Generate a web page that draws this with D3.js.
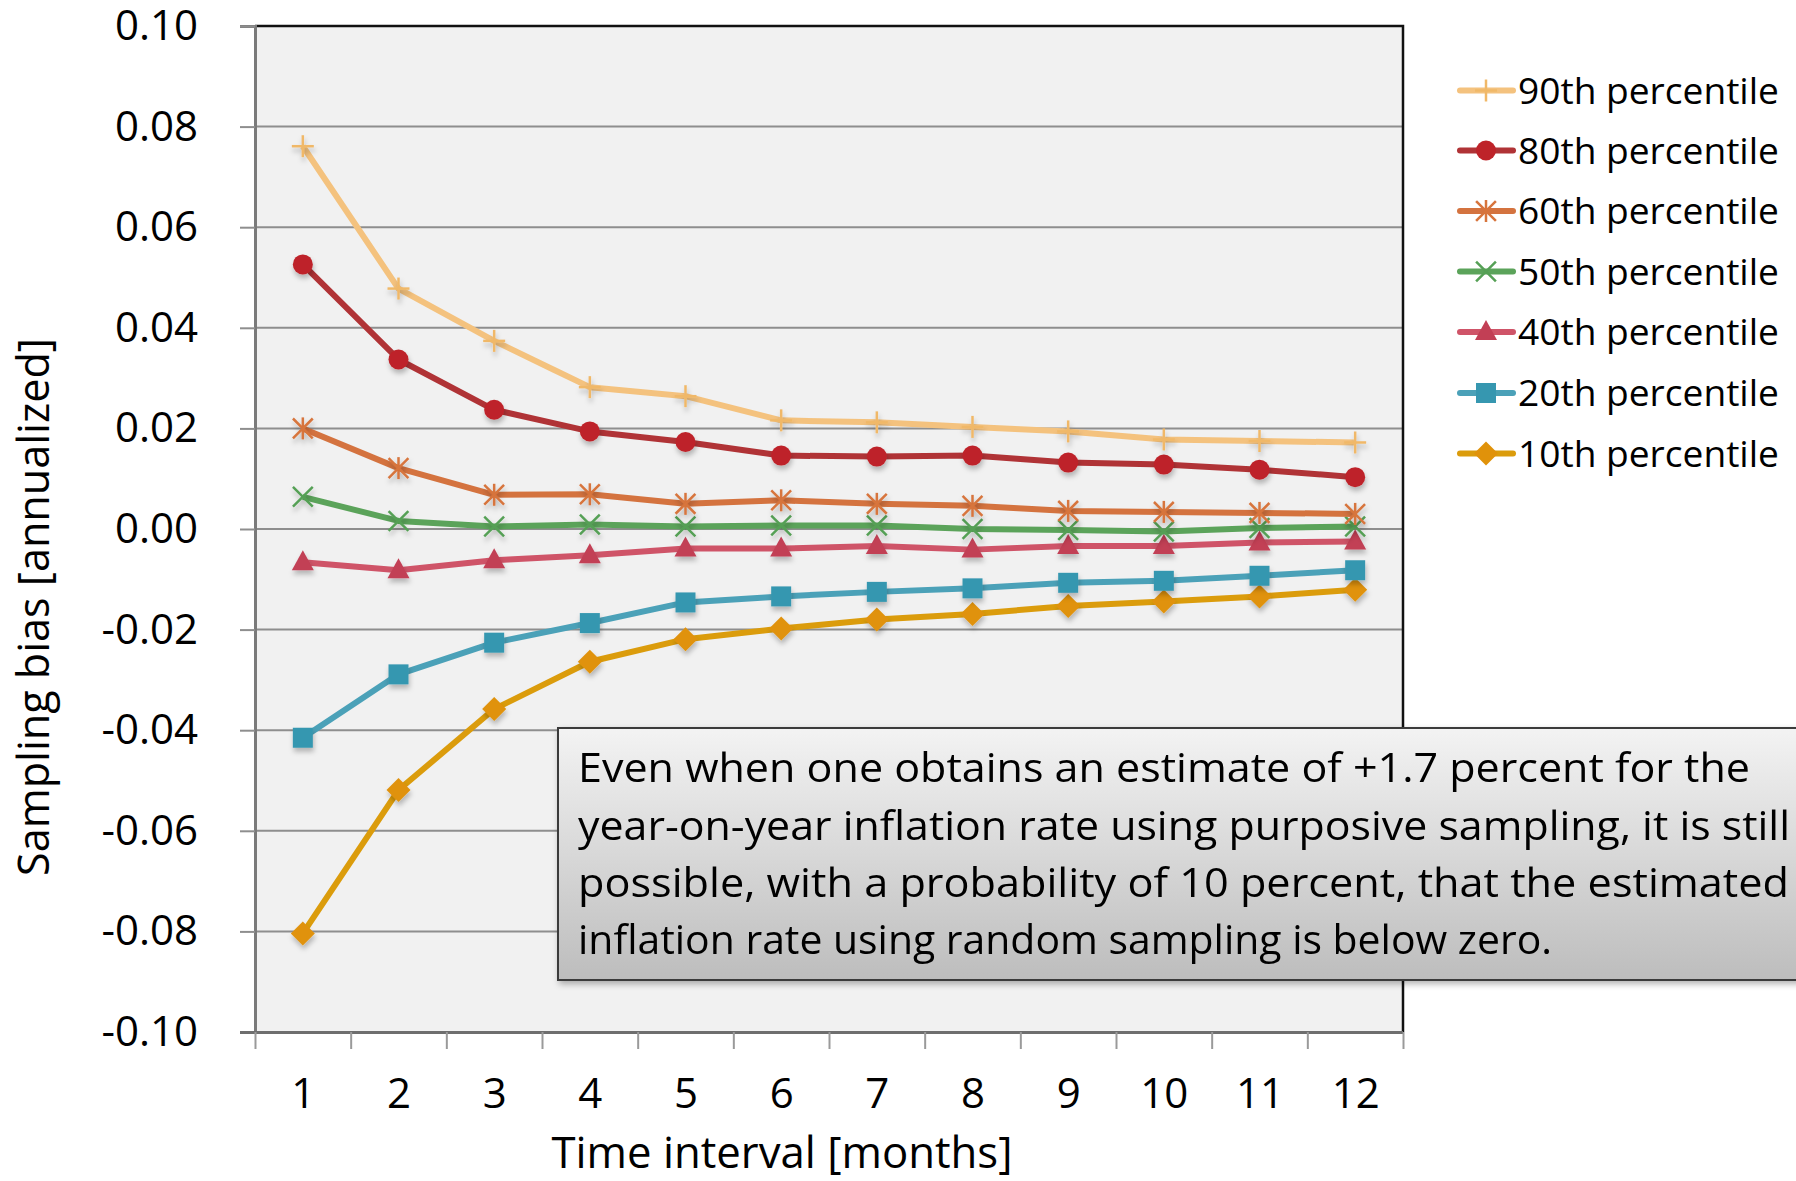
<!DOCTYPE html>
<html>
<head>
<meta charset="utf-8">
<script src="https://cdn.jsdelivr.net/npm/d3@7"></script>
<style>
  html, body { margin: 0; padding: 0; background: #ffffff; }
  svg { display: block; }
  text { font-family: "Open Sans", "Noto Sans", sans-serif; fill: #000; }
</style>
</head>
<body>
<svg id="chart" width="1796" height="1181"></svg>
<script>
// Time intervals (months)
const months = [1, 2, 3, 4, 5, 6, 7, 8, 9, 10, 11, 12];

// Sampling bias percentiles (annualized)
const p90 = [0.0761, 0.0478, 0.0374, 0.0282, 0.0264, 0.0216, 0.0212, 0.0203, 0.0194, 0.0178, 0.0175, 0.0172];
const p80 = [0.0526, 0.0337, 0.0237, 0.0194, 0.0173, 0.0146, 0.0144, 0.0146, 0.0132, 0.0128, 0.0118, 0.0103];
const p60 = [0.0200, 0.0121, 0.0068, 0.0069, 0.0050, 0.0057, 0.0050, 0.0046, 0.0036, 0.0034, 0.0032, 0.0030];
const p50 = [0.0064, 0.0016, 0.0005, 0.0009, 0.0005, 0.0007, 0.0007, 0.0000, -0.0002, -0.0005, 0.0002, 0.0005];
const p40 = [-0.0066, -0.0082, -0.0062, -0.0052, -0.0039, -0.0039, -0.0034, -0.0041, -0.0034, -0.0034, -0.0027, -0.0025];
const p20 = [-0.0415, -0.0289, -0.0226, -0.0187, -0.0146, -0.0134, -0.0125, -0.0118, -0.0107, -0.0103, -0.0093, -0.0082];
const p10 = [-0.0804, -0.0519, -0.0358, -0.0264, -0.0219, -0.0198, -0.0180, -0.0169, -0.0153, -0.0144, -0.0134, -0.0121];

const seriesNames = ["90th percentile", "80th percentile", "60th percentile", "50th percentile",
                     "40th percentile", "20th percentile", "10th percentile"];
const seriesValues = [p90, p80, p60, p50, p40, p20, p10];

const yTicks = [0.10, 0.08, 0.06, 0.04, 0.02, 0.00, -0.02, -0.04, -0.06, -0.08, -0.10];

const xTitle = "Time interval [months]";
const yTitle = "Sampling bias [annualized]";
const noteLines = [
  "Even when one obtains an estimate of +1.7 percent for the",
  "year-on-year inflation rate using purposive sampling, it is still",
  "possible, with a probability of 10 percent, that the estimated",
  "inflation rate using random sampling is below zero."
];

// Visual styling per series
const styles = [
  { line: "#F4C27E", mark: "#F0B868", shape: "plus" },
  { line: "#B03336", mark: "#BE2329", shape: "circle" },
  { line: "#D4733F", mark: "#D7743C", shape: "star" },
  { line: "#5BA35A", mark: "#55A055", shape: "x" },
  { line: "#CF5468", mark: "#C23F55", shape: "triangle" },
  { line: "#4BA1B8", mark: "#3697B0", shape: "square" },
  { line: "#DB9C0C", mark: "#E0920A", shape: "diamond" }
];

const svg = d3.select("#chart");
const plot = { left: 255, right: 1403, top: 26, bottom: 1032 };

const x = d3.scalePoint().domain(months).range([plot.left, plot.right]).padding(0.5);
const xEdge = d3.scaleLinear().domain([0.5, 12.5]).range([plot.left, plot.right]);
const y = d3.scaleLinear().domain([-0.10, 0.10]).range([plot.bottom, plot.top]);

// Defs: marker shadow and note box gradient
const defs = svg.append("defs");
const sh = defs.append("filter").attr("id", "shadow")
  .attr("x", "-50%").attr("y", "-50%").attr("width", "200%").attr("height", "200%");
sh.append("feDropShadow").attr("dx", 1).attr("dy", 4).attr("stdDeviation", 2.5)
  .attr("flood-color", "#000").attr("flood-opacity", 0.25);
const boxShadow = defs.append("filter").attr("id", "boxshadow")
  .attr("x", "-10%").attr("y", "-20%").attr("width", "120%").attr("height", "140%");
boxShadow.append("feDropShadow").attr("dx", 2).attr("dy", 3).attr("stdDeviation", 3)
  .attr("flood-color", "#000").attr("flood-opacity", 0.3);
const grad = defs.append("linearGradient").attr("id", "boxgrad")
  .attr("x1", 0).attr("y1", 0).attr("x2", 0).attr("y2", 1);
grad.append("stop").attr("offset", "0%").attr("stop-color", "#F3F3F3");
grad.append("stop").attr("offset", "100%").attr("stop-color", "#BDBDBD");

// Plot background
svg.append("rect")
  .attr("x", plot.left).attr("y", plot.top)
  .attr("width", plot.right - plot.left).attr("height", plot.bottom - plot.top)
  .attr("fill", "#F1F1F1");

// Horizontal gridlines
svg.append("g").selectAll("line").data(yTicks.filter(d => d > -0.10 && d < 0.10)).join("line")
  .attr("x1", plot.left).attr("x2", plot.right)
  .attr("y1", d => y(d)).attr("y2", d => y(d))
  .attr("stroke", "#8E8E8E").attr("stroke-width", 2);

// Top and right frame
svg.append("path")
  .attr("d", `M${plot.left},${plot.top}H${plot.right}V${plot.bottom}`)
  .attr("fill", "none").attr("stroke", "#111").attr("stroke-width", 2.5);

// Y axis
const yAxis = svg.append("g").attr("transform", `translate(${plot.left},0)`)
  .call(d3.axisLeft(y).tickValues(yTicks).tickSize(15).tickPadding(42)
    .tickFormat(d => (Math.abs(d) < 1e-9 ? 0 : d).toFixed(2)));
yAxis.select(".domain").attr("stroke", "#7A7A7A").attr("stroke-width", 3);
yAxis.selectAll(".tick line").attr("stroke", "#8E8E8E").attr("stroke-width", 2);
yAxis.selectAll(".tick text").attr("font-size", 42).attr("fill", "#000")
  .style("font-family", '"Open Sans", sans-serif');

// X axis: ticks at category boundaries, labels at centers
const xAxisEdges = svg.append("g").attr("transform", `translate(0,${plot.bottom})`)
  .call(d3.axisBottom(xEdge).tickValues(d3.range(0.5, 13, 1)).tickSize(17).tickFormat(""));
xAxisEdges.select(".domain").attr("stroke", "#6E6E6E").attr("stroke-width", 3)
  .attr("d", `M${plot.left - 15},0.5H${plot.right}`);
xAxisEdges.selectAll(".tick line").attr("stroke", "#9A9A9A").attr("stroke-width", 2);

const xAxisLabels = svg.append("g").attr("transform", `translate(0,${plot.bottom})`)
  .call(d3.axisBottom(x).tickSize(0).tickPadding(46));
xAxisLabels.select(".domain").remove();
xAxisLabels.selectAll(".tick text").attr("font-size", 42).attr("fill", "#000")
  .style("font-family", '"Open Sans", sans-serif');

// Fit a text element to a target width by scaling its font size
function fitWidth(sel, target) {
  sel.each(function () {
    const fs = parseFloat(d3.select(this).attr("font-size"));
    const w = this.getComputedTextLength();
    if (w > 0) d3.select(this).attr("font-size", fs * target / w);
  });
}

// Axis titles
svg.append("text")
  .attr("x", 782).attr("y", 1153).attr("dy", "0.35em")
  .attr("text-anchor", "middle").attr("font-size", 40)
  .text(xTitle).call(fitWidth, 461);

svg.append("text")
  .attr("transform", "translate(34,607) rotate(-90)")
  .attr("dy", "0.35em")
  .attr("text-anchor", "middle").attr("font-size", 40)
  .text(yTitle).call(fitWidth, 538);

// Marker drawing
function drawMarker(g, shape, color) {
  const s = 11;
  if (shape === "circle") {
    g.append("circle").attr("r", 10).attr("fill", color);
  } else if (shape === "square") {
    g.append("rect").attr("x", -10).attr("y", -10).attr("width", 20).attr("height", 20).attr("fill", color);
  } else if (shape === "triangle") {
    g.append("path").attr("d", "M0,-12L11,8H-11Z").attr("fill", color);
  } else if (shape === "diamond") {
    g.append("path").attr("d", "M0,-12L12,0L0,12L-12,0Z").attr("fill", color);
  } else {
    const segs = [];
    if (shape === "plus" || shape === "star") segs.push([0, -s, 0, s]);
    if (shape === "plus") segs.push([-s, 0, s, 0]);
    if (shape === "x" || shape === "star") { segs.push([-s * 0.9, -s * 0.9, s * 0.9, s * 0.9]); segs.push([-s * 0.9, s * 0.9, s * 0.9, -s * 0.9]); }
    g.selectAll("line").data(segs).join("line")
      .attr("x1", d => d[0]).attr("y1", d => d[1]).attr("x2", d => d[2]).attr("y2", d => d[3])
      .attr("stroke", color).attr("stroke-width", 2.5);
  }
}

const line = d3.line().x((d, i) => x(months[i])).y(d => y(d));

// Series (draw bottom of legend first so upper series sit on top)
const seriesG = svg.append("g");
for (let k = seriesValues.length - 1; k >= 0; k--) {
  const vals = seriesValues[k];
  const st = styles[k];
  seriesG.append("path")
    .attr("d", line(vals))
    .attr("fill", "none").attr("stroke", st.line).attr("stroke-width", 6)
    .attr("stroke-linejoin", "round");
  const marks = seriesG.append("g").attr("filter", "url(#shadow)");
  vals.forEach((v, i) => {
    const mg = marks.append("g").attr("transform", `translate(${x(months[i])},${y(v)})`);
    drawMarker(mg, st.shape, st.mark);
  });
}

// Legend
const legendRows = [90.5, 150.5, 211, 271.5, 332, 393, 453.5];
const legend = svg.append("g");
seriesNames.forEach((name, k) => {
  const g = legend.append("g").attr("transform", `translate(0,${legendRows[k]})`);
  g.append("line").attr("x1", 1460).attr("x2", 1513).attr("y1", 0).attr("y2", 0)
    .attr("stroke", styles[k].line).attr("stroke-width", 6).attr("stroke-linecap", "round");
  const mg = g.append("g").attr("transform", "translate(1486,0)");
  drawMarker(mg, styles[k].shape, styles[k].mark);
  g.append("text").attr("x", 1518).attr("y", 0).attr("dy", "0.35em")
    .attr("font-size", 40).text(name).call(fitWidth, 261);
});

// Note box
const note = svg.append("g");
note.append("rect")
  .attr("x", 558).attr("y", 728).attr("width", 1300).attr("height", 252)
  .attr("fill", "url(#boxgrad)").attr("stroke", "#3A3A3A").attr("stroke-width", 2)
  .attr("filter", "url(#boxshadow)");
const noteWidths = [1172, 1212, 1211, 974];
const noteBase = [782, 840, 897, 954];
noteLines.forEach((t, i) => {
  note.append("text").attr("x", 578).attr("y", noteBase[i])
    .attr("font-size", 40).text(t)
    .attr("textLength", noteWidths[i]).attr("lengthAdjust", "spacingAndGlyphs");
});
</script>
</body>
</html>
